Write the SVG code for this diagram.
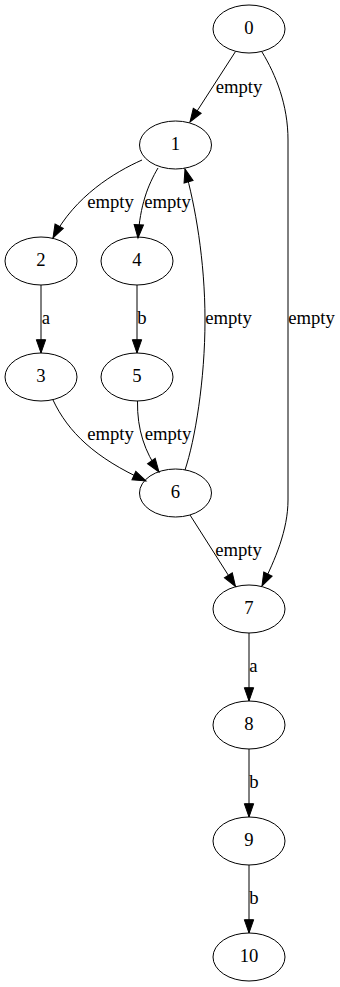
<svg xmlns="http://www.w3.org/2000/svg" width="340" height="987" viewBox="0 0 340 987">
  <style>
    .node ellipse { fill: none; stroke: #000; stroke-width: 1; }
    text { font-family: "Liberation Serif", "Times New Roman", serif; font-size: 18.67px; fill: #000; text-anchor: middle; }
    .edge path { fill: none; stroke: #000; stroke-width: 1; marker-end: url(#arrow); }
  </style>
  <defs>
    <marker id="arrow" markerUnits="userSpaceOnUse" viewBox="-1 -1 15.3 11.33" markerWidth="15.3" markerHeight="11.33" refX="13.3" refY="4.67" orient="auto" overflow="visible">
      <path d="M0,0 L13.3,4.67 L0,9.33 Z" fill="#000" stroke="#000" stroke-width="1"/>
    </marker>
  </defs>
  <rect width="340" height="987" fill="#fff"/>

  <!-- transitions -->
  <g id="edges">
    <g class="edge" id="e0-1">
      <path d="M235.5,51.5 L190,122"/>
      <text x="239" y="92.5">empty</text>
    </g>
    <g class="edge" id="e0-7">
      <path d="M262,52 C276,75 288,105 288,140 L288,500 C288,530 275,560 262,586"/>
      <text x="311.5" y="324">empty</text>
    </g>
    <g class="edge" id="e1-2">
      <path d="M142,160 C115,172 75,196 53,238"/>
      <text x="110.5" y="208">empty</text>
    </g>
    <g class="edge" id="e1-4">
      <path d="M158,168 C148,185 140,205 138,238"/>
      <text x="167.5" y="208">empty</text>
    </g>
    <g class="edge" id="e2-3">
      <path d="M41,285 L41,353"/>
      <text x="46" y="324">a</text>
    </g>
    <g class="edge" id="e4-5">
      <path d="M137,285 L137,353"/>
      <text x="142" y="324">b</text>
    </g>
    <g class="edge" id="e6-1">
      <path d="M185,470 C195,440 205,380 205,320 C205,260 195,205 185,169"/>
      <text x="228.5" y="324">empty</text>
    </g>
    <g class="edge" id="e3-6">
      <path d="M53,400 C68,432 95,458 146,481"/>
      <text x="110.5" y="440">empty</text>
    </g>
    <g class="edge" id="e5-6">
      <path d="M137.5,401 C137,430 145,452 159,472"/>
      <text x="168" y="440">empty</text>
    </g>
    <g class="edge" id="e6-7">
      <path d="M190,515 L235.5,586.5"/>
      <text x="238.5" y="556">empty</text>
    </g>
    <g class="edge" id="e7-8">
      <path d="M249,633 L249,701"/>
      <text x="253.5" y="672">a</text>
    </g>
    <g class="edge" id="e8-9">
      <path d="M249,749 L249,817"/>
      <text x="254" y="788">b</text>
    </g>
    <g class="edge" id="e9-10">
      <path d="M249,865 L249,933"/>
      <text x="254" y="904">b</text>
    </g>
  </g>

  <!-- states -->
  <g class="node" id="n0"><ellipse cx="249" cy="29" rx="36" ry="24"/><text x="249" y="34">0</text></g>
  <g class="node" id="n1"><ellipse cx="175.5" cy="145" rx="36" ry="24"/><text x="175.5" y="150">1</text></g>
  <g class="node" id="n2"><ellipse cx="41" cy="261" rx="36" ry="24"/><text x="41" y="266">2</text></g>
  <g class="node" id="n4"><ellipse cx="137" cy="261" rx="36" ry="24"/><text x="137" y="266">4</text></g>
  <g class="node" id="n3"><ellipse cx="41" cy="377" rx="36" ry="24"/><text x="41" y="382">3</text></g>
  <g class="node" id="n5"><ellipse cx="137" cy="377" rx="36" ry="24"/><text x="137" y="382">5</text></g>
  <g class="node" id="n6"><ellipse cx="175.5" cy="493" rx="36" ry="24"/><text x="175.5" y="498">6</text></g>
  <g class="node" id="n7"><ellipse cx="249" cy="609" rx="36" ry="24"/><text x="249" y="614">7</text></g>
  <g class="node" id="n8"><ellipse cx="249" cy="725" rx="36" ry="24"/><text x="249" y="730">8</text></g>
  <g class="node" id="n9"><ellipse cx="249" cy="841" rx="36" ry="24"/><text x="249" y="846">9</text></g>
  <g class="node" id="n10"><ellipse cx="249" cy="957" rx="36" ry="24"/><text x="249" y="962">10</text></g>
</svg>
